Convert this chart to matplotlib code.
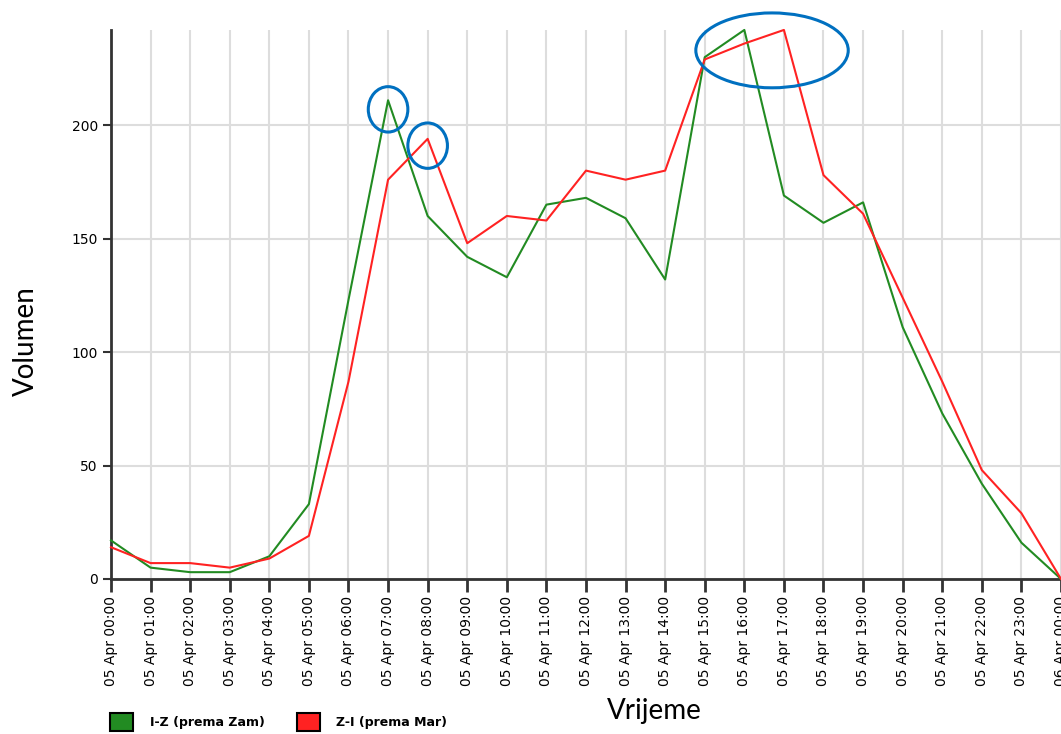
#!/usr/bin/env python
# -*- coding: utf-8 -*-
import sys
import numpy as np
import matplotlib as mpl
mpl.use('Agg')
import matplotlib.pyplot as plt
from matplotlib.patches import Ellipse, Patch
import pandas as pd

# hourly volumes, 05 Apr 00:00 .. 06 Apr 00:00
times = pd.date_range('2024-04-05 00:00', '2024-04-06 00:00', freq='h')
tick_labels = [t.strftime('%d %b %H:%M') for t in times]
iz_prema_zam = [17, 5, 3, 3, 10, 33, 123, 211, 160, 142, 133, 165, 168, 159,
                132, 230, 242, 169, 157, 166, 111, 73, 42, 16, 0]
zi_prema_mar = [14, 7, 7, 5, 9, 19, 87, 176, 194, 148, 160, 158, 180, 176,
                180, 229, 236, 242, 178, 161, 124, 87, 48, 29, 0]
series_names = ['I-Z (prema Zam)', 'Z-I (prema Mar)']
# highlighted spots: (hour, value, width in hours, height in units)
highlights = [(7, 207, 1.0, 20), (8, 191, 1.0, 20), (16.7, 233, 3.85, 33)]


def main():
  hours = np.arange(len(times))
  fig = plt.figure(figsize=(10.61, 7.34), dpi=100)
  ax = fig.add_axes([0.1046, 0.2112, 0.8954, 0.748])

  green, red = '#228b22', '#ff2222'
  ax.plot(hours, iz_prema_zam, color=green, lw=1.5, clip_on=False, zorder=3)
  ax.plot(hours, zi_prema_mar, color=red, lw=1.5, clip_on=False, zorder=3)

  ax.set_xlim(0, 24)
  ax.set_ylim(0, 242)
  ax.set_xticks(hours)
  ax.set_xticklabels(tick_labels, rotation=90, fontsize=10)
  ax.set_yticks([0, 50, 100, 150, 200])
  ax.tick_params(axis='y', labelsize=10, length=6, width=1.5, color='#333333')
  ax.tick_params(axis='x', length=9, width=2, color='#333333', pad=3)
  ax.grid(True, color='#dddddd', lw=1.5)
  ax.set_axisbelow(True)
  for s in ['top', 'right']:
    ax.spines[s].set_visible(False)
  for s in ['left', 'bottom']:
    ax.spines[s].set_color('#333333')
    ax.spines[s].set_linewidth(2)

  for hx, hy, w, h in highlights:
    ax.add_patch(Ellipse((hx, hy), w, h, fill=False, edgecolor='#0070c0',
                         lw=2.2, clip_on=False, zorder=4))

  fig.text(0.024, 0.535, 'Volumen', rotation=90, ha='center', va='center',
           fontsize=20, family=['Lato', 'DejaVu Sans'])
  fig.text(0.617, 0.031, 'Vrijeme', ha='center', va='center',
           fontsize=20, family=['Lato', 'DejaVu Sans'])

  handles = [Patch(facecolor=green, edgecolor='black', lw=1.5),
             Patch(facecolor=red, edgecolor='black', lw=1.5)]
  fig.legend(handles, series_names, loc='upper left',
             bbox_to_anchor=(0.104, 0.029), ncol=2, frameon=False,
             prop={'weight': 'bold', 'size': 9}, handlelength=1.85,
             handleheight=1.85, handletextpad=1.3, columnspacing=2.6,
             borderpad=0, borderaxespad=0)

  fig.savefig('out.png', dpi=100)


if __name__ == "__main__":
  sys.exit(main())
